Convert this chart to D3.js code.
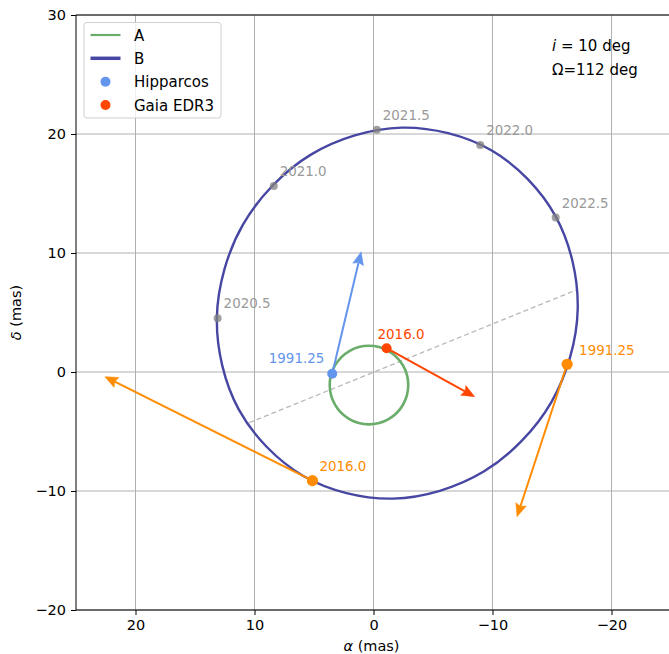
<!DOCTYPE html>
<html>
<head>
<meta charset="utf-8">
<script src="https://cdn.jsdelivr.net/npm/d3@7"></script>
<style>
  html, body { margin: 0; padding: 0; background: #fff; }
  svg { display: block; font-family: "DejaVu Sans", sans-serif; }
</style>
</head>
<body>
<svg id="chart" width="669" height="654"></svg>
<script>
// ---- data (alpha, delta in mas) ----
const xTicks = [20, 10, 0, -10, -20];
const yTicks = [-20, -10, 0, 10, 20, 30];

// orbit B outline, points read around the ellipse
const orbitB = [
  [-9.9, 18.633], [-2.368, 20.537], [5.262, 18.265], [10.947, 12.425],
  [13.162, 4.581], [11.315, -3.162], [5.9, -8.733], [-1.632, -10.637],
  [-9.262, -8.365], [-14.947, -2.525], [-17.162, 5.319], [-15.315, 13.062]
];

// orbit A outline
const orbitA = [
  [3.68, -1.1], [3.238, 0.55], [2.03, 1.758], [0.38, 2.2], [-1.27, 1.758], [-2.478, 0.55],
  [-2.92, -1.1], [-2.478, -2.75], [-1.27, -3.958], [0.38, -4.4], [2.03, -3.958], [3.238, -2.75]
];

const nodeLine = [[10.45, -4.26], [-17.04, 6.89]];

const epochLabels = ["2020.5", "2021.0", "2021.5", "2022.0", "2022.5"];
const epochPos = [[13.1, 4.51], [8.38, 15.63], [-0.28, 20.35], [-8.97, 19.08], [-15.31, 12.98]];

const hipPos = [3.47, -0.15];
const hipArrowEnd = [1.04, 10.1];
const gaiaPos = [-1.1, 2.0];
const gaiaArrowEnd = [-8.5, -2.07];

const compLabels = ["1991.25", "2016.0"];
const compPos = [[-16.27, 0.65], [5.13, -9.13]];
const compArrowEnd = [[-12.06, -12.16], [22.57, -0.39]];

const legendLabels = ["A", "B", "Hipparcos", "Gaia EDR3"];
const infoLines = ["i", "Ω=112 deg"];

// ---- styling ----
const colA = "#6aad6a", colB = "#4747a3", colHip = "#6495ED", colGaia = "#FF4500", colOrange = "#FF8C00";

const svg = d3.select("#chart");
const L = 76, T = 15, S = 595;
const x = d3.scaleLinear().domain([25, -25]).range([L, L + S]);
const y = d3.scaleLinear().domain([-20, 30]).range([T + S, T]);

svg.append("defs").append("clipPath").attr("id", "clip")
  .append("rect").attr("x", L).attr("y", T).attr("width", S).attr("height", S);

// grid
const grid = svg.append("g");
grid.selectAll("line.gx").data(xTicks).join("line")
  .attr("x1", d => x(d)).attr("x2", d => x(d)).attr("y1", T).attr("y2", T + S)
  .attr("stroke", "#b0b0b0").attr("stroke-width", 1);
grid.selectAll("line.gy").data(yTicks).join("line")
  .attr("y1", d => y(d)).attr("y2", d => y(d)).attr("x1", L).attr("x2", L + S)
  .attr("stroke", "#b0b0b0").attr("stroke-width", 1);

const plot = svg.append("g").attr("clip-path", "url(#clip)");

// line of nodes
plot.append("path").datum(nodeLine)
  .attr("d", d3.line().x(d => x(d[0])).y(d => y(d[1])))
  .attr("fill", "none").attr("stroke", "#b8b8b8").attr("stroke-width", 1.3)
  .attr("stroke-dasharray", "5,3");

const orbitLine = d3.line().x(d => x(d[0])).y(d => y(d[1])).curve(d3.curveCatmullRomClosed.alpha(0.5));
plot.append("path").datum(orbitA).attr("d", orbitLine)
  .attr("fill", "none").attr("stroke", colA).attr("stroke-width", 2.6);
plot.append("path").datum(orbitB).attr("d", orbitLine)
  .attr("fill", "none").attr("stroke", colB).attr("stroke-width", 2.4);

// arrows
function arrow(g, from, to, color) {
  const x0 = x(from[0]), y0 = y(from[1]), x1 = x(to[0]), y1 = y(to[1]);
  const dx = x1 - x0, dy = y1 - y0, len = Math.hypot(dx, dy);
  const ux = dx / len, uy = dy / len;
  const hl = 13, hw = 5.5;
  const bx = x1 - ux * hl, by = y1 - uy * hl;
  g.append("line").attr("x1", x0).attr("y1", y0).attr("x2", bx + ux * 2).attr("y2", by + uy * 2)
    .attr("stroke", color).attr("stroke-width", 2);
  g.append("path")
    .attr("d", `M${x1},${y1}L${bx - uy * hw},${by + ux * hw}L${bx + ux * 2},${by + uy * 2}L${bx + uy * hw},${by - ux * hw}Z`)
    .attr("fill", color).attr("stroke", color).attr("stroke-width", 0.5);
}
arrow(plot, hipPos, hipArrowEnd, colHip);
arrow(plot, gaiaPos, gaiaArrowEnd, colGaia);
compPos.forEach((p, i) => arrow(plot, p, compArrowEnd[i], colOrange));

// epoch markers
plot.selectAll("circle.ep").data(epochPos).join("circle")
  .attr("cx", d => x(d[0])).attr("cy", d => y(d[1])).attr("r", 4)
  .attr("fill", "#808080").attr("fill-opacity", 0.75);
plot.selectAll("text.ep").data(epochPos).join("text")
  .attr("x", d => x(d[0]) + 6).attr("y", d => y(d[1]) - 10)
  .attr("font-size", 13.4).attr("fill", "#999999")
  .text((d, i) => epochLabels[i]);

// Hipparcos / Gaia points
plot.append("circle").attr("cx", x(hipPos[0])).attr("cy", y(hipPos[1])).attr("r", 5).attr("fill", colHip);
plot.append("circle").attr("cx", x(gaiaPos[0])).attr("cy", y(gaiaPos[1])).attr("r", 5).attr("fill", colGaia);
plot.append("text").attr("x", x(hipPos[0]) - 8).attr("y", y(hipPos[1]) - 11)
  .attr("text-anchor", "end").attr("font-size", 13.4).attr("fill", colHip).text(compLabels[0]);
plot.append("text").attr("x", x(gaiaPos[0]) - 9).attr("y", y(gaiaPos[1]) - 9)
  .attr("font-size", 13.4).attr("fill", colGaia).text(compLabels[1]);

// companion points
plot.selectAll("circle.cp").data(compPos).join("circle")
  .attr("cx", d => x(d[0])).attr("cy", d => y(d[1])).attr("r", 5.6).attr("fill", colOrange);
const compOff = [[12, -9], [7, -10]];
plot.selectAll("text.cp").data(compPos).join("text")
  .attr("x", (d, i) => x(d[0]) + compOff[i][0]).attr("y", (d, i) => y(d[1]) + compOff[i][1])
  .attr("font-size", 13.4).attr("fill", colOrange)
  .text((d, i) => compLabels[i]);

// spines
svg.append("line").attr("x1", L).attr("x2", L).attr("y1", T).attr("y2", T + S).attr("stroke", "#000").attr("stroke-width", 1);
svg.append("line").attr("x1", L).attr("x2", L + S).attr("y1", T + S).attr("y2", T + S).attr("stroke", "#000").attr("stroke-width", 1);
svg.append("line").attr("x1", L).attr("x2", L + S).attr("y1", T).attr("y2", T).attr("stroke", "#000").attr("stroke-width", 1);
svg.append("line").attr("x1", L + S).attr("x2", L + S).attr("y1", T).attr("y2", T + S).attr("stroke", "#000").attr("stroke-width", 1);

// axes
const xAxis = d3.axisBottom(x).tickValues(xTicks).tickSize(5).tickPadding(5);
const yAxis = d3.axisLeft(y).tickValues(yTicks).tickSize(5).tickPadding(5);
const gx = svg.append("g").attr("transform", `translate(0,${T + S})`).call(xAxis);
const gy = svg.append("g").attr("transform", `translate(${L},0)`).call(yAxis);
[gx, gy].forEach(g => {
  g.select(".domain").remove();
  g.selectAll("text").attr("font-size", 14.5).attr("font-family", "DejaVu Sans").attr("fill", "#000");
  g.selectAll("line").attr("stroke", "#000");
});

svg.append("text").attr("x", L + S / 2 - 2).attr("y", 651).attr("text-anchor", "middle")
  .attr("font-size", 14.5).html('<tspan font-style="italic">α</tspan> (mas)');
svg.append("text").attr("transform", `translate(21,${T + S / 2}) rotate(-90)`).attr("text-anchor", "middle")
  .attr("font-size", 14.5).html('<tspan font-style="italic">δ</tspan> (mas)');

// info text
const info = svg.append("g");
info.append("text").attr("x", 552).attr("y", 51).attr("font-size", 15)
  .html(`<tspan font-style="italic">${infoLines[0]}</tspan><tspan> = 10 deg</tspan>`);
info.append("text").attr("x", 552).attr("y", 75).attr("font-size", 15).text(infoLines[1]);

// legend
const lg = svg.append("g");
lg.append("rect").attr("x", 84).attr("y", 22.5).attr("width", 137).attr("height", 95.5).attr("rx", 3)
  .attr("fill", "#fff").attr("fill-opacity", 0.8).attr("stroke", "#d0d0d0").attr("stroke-width", 1);
const rowY = [35, 58.3, 81.7, 105];
lg.append("line").attr("x1", 90.5).attr("x2", 120.5).attr("y1", rowY[0]).attr("y2", rowY[0]).attr("stroke", colA).attr("stroke-width", 2.2);
lg.append("line").attr("x1", 90.5).attr("x2", 120.5).attr("y1", rowY[1]).attr("y2", rowY[1]).attr("stroke", colB).attr("stroke-width", 3.5);
lg.append("circle").attr("cx", 105.5).attr("cy", rowY[2]).attr("r", 5).attr("fill", colHip);
lg.append("circle").attr("cx", 105.5).attr("cy", rowY[3]).attr("r", 5).attr("fill", colGaia);
lg.selectAll("text").data(legendLabels).join("text")
  .attr("x", 134).attr("y", (d, i) => rowY[i] + 5.5).attr("font-size", 15).text(d => d);
</script>
</body>
</html>
